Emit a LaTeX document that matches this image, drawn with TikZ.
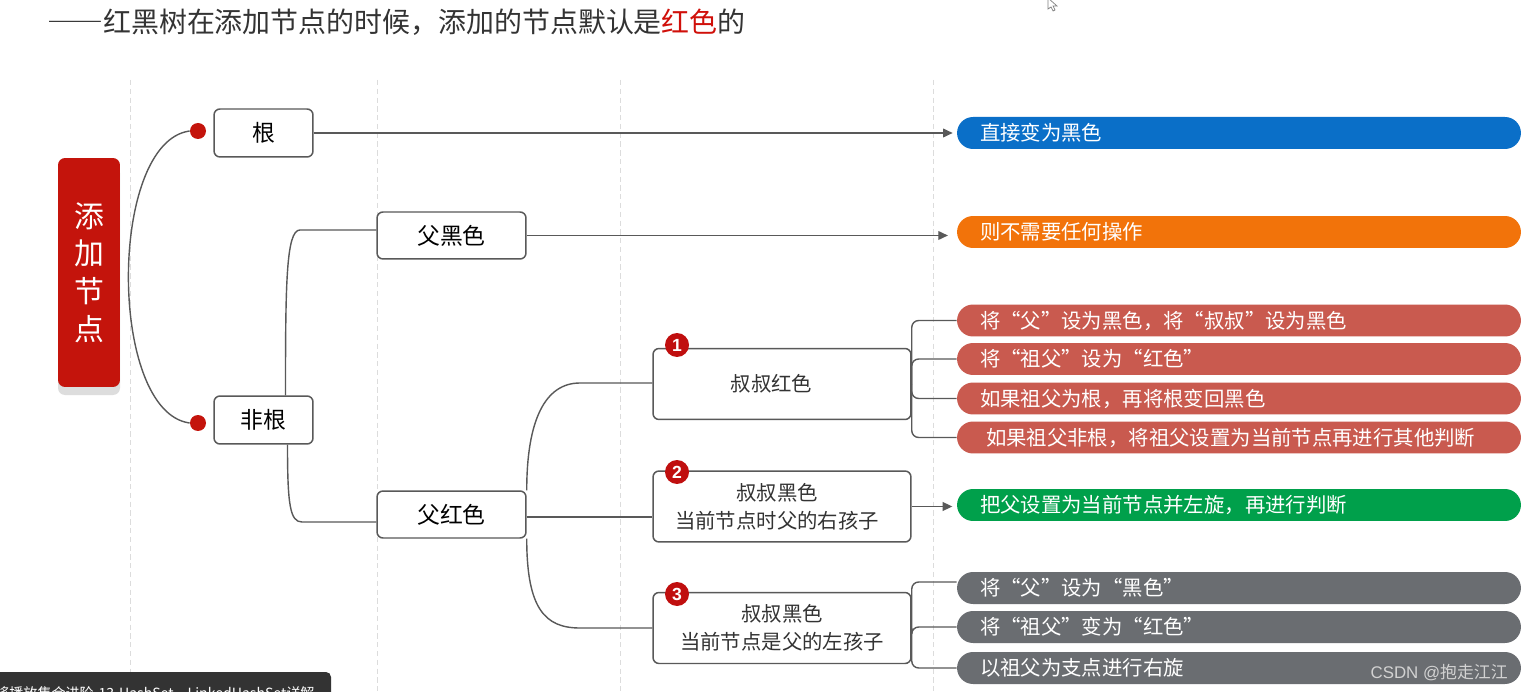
\documentclass[tikz,border=0pt]{standalone}
\usepackage{fontspec}
\setmainfont{Noto Sans CJK SC}
\newfontfamily\latinfont{Liberation Sans}
\newfontfamily\fwfont[CharacterWidth=Full]{Noto Sans CJK SC}
\newcommand{\myLQ}{\makebox[1em][r]{“}}
\newcommand{\myRQ}{\makebox[1em][l]{”}}
\usetikzlibrary{arrows.meta,calc}
\definecolor{titlec}{HTML}{333333}
\definecolor{redt}{HTML}{D0100A}
\definecolor{rootc}{HTML}{C4140C}
\definecolor{shadowc}{HTML}{DDDDDD}
\definecolor{linec}{HTML}{595959}
\definecolor{guidec}{HTML}{DCDCDC}
\definecolor{bluec}{HTML}{0A6FC8}
\definecolor{orangec}{HTML}{F2730A}
\definecolor{redpc}{HTML}{C95A4F}
\definecolor{greenc}{HTML}{00A04B}
\definecolor{greyc}{HTML}{6A6D71}
\definecolor{badgec}{HTML}{C00F0F}
\definecolor{overlayc}{HTML}{333333}
\definecolor{wmc}{HTML}{D2D2D2}
\begin{document}
\begin{tikzpicture}[x=0.02cm,y=-0.02cm,
  conn/.style={draw=linec, line width=0.8pt},
  arr/.style={conn, -{Triangle[length=5.5pt,width=5pt]}},
  guide/.style={draw=guidec, line width=0.4pt, dashed, dash pattern=on 3pt off 2pt},
  lvlone/.style={draw=linec, line width=0.85pt, rounded corners=0.12cm, fill=white, text=black, inner sep=0pt, font=\fontsize{13pt}{15pt}\selectfont},
  lvltwo/.style={draw=linec, line width=0.85pt, rounded corners=0.12cm, fill=white, text=titlec, inner sep=0pt, minimum width=5.16cm, minimum height=1.42cm, align=center, font=\fontsize{11.6pt}{15.9pt}\selectfont},
  pill/.style={rounded corners=0.32cm, minimum width=11.28cm, minimum height=0.64cm, inner sep=0pt, text width=10.36cm, align=left, text=white, font=\fontsize{11.6pt}{13pt}\selectfont},
  badge/.style={circle, fill=badgec, minimum size=0.48cm, inner sep=0pt, text=white, font=\latinfont\bfseries\fontsize{10pt}{10pt}\selectfont},
  dot/.style={circle, fill=rootc, minimum size=0.32cm, inner sep=0pt},
  rootbox/.style={fill=rootc, rounded corners=0.14cm, minimum width=1.24cm, minimum height=4.58cm, inner sep=0pt, align=center, text=white, font=\fontsize{17pt}{21.5pt}\selectfont}
]
\path[use as bounding box] (0,0) rectangle (1524,692);
\fill[white] (0,0) rectangle (1524,692);

% guide lines
\foreach \gx in {130,377,620,933} \draw[guide] (\gx,80) -- (\gx,692);

% title
\node[anchor=west, inner sep=0pt, text=titlec, font=\fontsize{15.9pt}{18pt}\selectfont] (title) at (47,22) {{\fwfont ——}红黑树在添加节点的时候，添加的节点默认是\textcolor{redt}{红色}的};

% cursor
\draw[gray, fill=white, line width=0.4pt] (1048,-2) -- (1048,9) -- (1051,7) -- (1053,11) -- (1055,10) -- (1053,6) -- (1057,6) -- cycle;

% root
\fill[shadowc, rounded corners=0.14cm] (58,166) rectangle (120,395);
\node[rootbox] (root) at (89,272.5) {添\\加\\节\\点};

% level 1
\node[lvlone, minimum width=1.98cm, minimum height=0.96cm] (gen) at (263.5,133) {根};
\node[lvlone, minimum width=1.98cm, minimum height=0.96cm] (feigen) at (263.5,420) {非根};
\node[dot] (d1) at (198,131) {};
\node[dot] (d2) at (198,423) {};

% level 2
\node[lvlone, minimum width=2.98cm, minimum height=0.94cm] (fhei) at (451.5,235.5) {父黑色};
\node[lvlone, minimum width=2.98cm, minimum height=0.94cm] (fhong) at (451.5,514.5) {父红色};

% level 3
\node[lvltwo] (b1) at (782,384) {\hspace*{-0.42cm}叔叔红色};
\node[lvltwo] (b2) at (782,506.5) {\hspace*{-0.2cm}叔叔黑色\\\hspace*{-0.2cm}当前节点时父的右孩子};
\node[lvltwo] (b3) at (782,628) {叔叔黑色\\当前节点是父的左孩子};
\node[badge] (n1) at (677,345) {1};
\node[badge] (n2) at (677,472) {2};
\node[badge] (n3) at (677,594) {3};

% pills
\node[pill, fill=bluec] (p0) at (1239,133) {直接变为黑色};
\node[pill, fill=orangec] (p1) at (1239,232) {则不需要任何操作};
\node[pill, fill=redpc] (r1) at (1239,320.5) {将\myLQ 父\myRQ 设为黑色，将\myLQ 叔叔\myRQ 设为黑色};
\node[pill, fill=redpc] (r2) at (1239,359) {将\myLQ 祖父\myRQ 设为\myLQ 红色\myRQ};
\node[pill, fill=redpc] (r3) at (1239,398.5) {如果祖父为根，再将根变回黑色};
\node[pill, fill=redpc] (r4) at (1239,437.5) {\hspace*{0.12cm}如果祖父非根，将祖父设置为当前节点再进行其他判断};
\node[pill, fill=greenc] (gp) at (1239,505) {把父设置为当前节点并左旋，再进行判断};
\node[pill, fill=greyc] (g1) at (1239,588) {将\myLQ 父\myRQ 设为\myLQ 黑色\myRQ};
\node[pill, fill=greyc] (g2) at (1239,627) {将\myLQ 祖父\myRQ 变为\myLQ 红色\myRQ};
\node[pill, fill=greyc] (g3) at (1239,668) {以祖父为支点进行右旋};

% connectors
\draw[conn] (d1.west) .. controls (108,142) and (108,412) .. (d2.west);
\coordinate (c1) at (300,230);
\coordinate (c2) at (302,522);
\draw[conn] ([xshift=0.44cm]feigen.north) .. controls +(0,-110) and +(-14,0) .. (c1) -- (c1 -| fhei.west);
\draw[conn] ([xshift=0.48cm]feigen.south) .. controls +(0,60) and +(-12,0) .. (c2) -- (c2 -| fhong.west);
\draw[arr, shorten >=2.3pt] (gen.east) -- (p0.west);
\draw[arr, shorten >=5pt] (fhei.east) -- (fhei.east -| p1.west);

\coordinate (c3) at (580,383);
\coordinate (c4) at (580,628);
\draw[conn] (fhong.north east) .. controls +(0,-70) and +(-35,0) .. (c3) -- (c3 -| b1.west);
\draw[conn] (fhong.south east) .. controls +(0,70) and +(-35,0) .. (c4) -- (c4 -| b3.west);
\draw[conn] ([yshift=-0.05cm]fhong.east) -- ([yshift=-0.05cm]fhong.east -| b2.west);

\foreach \t in {r1,r2,r3,r4} \draw[conn, rounded corners=0.14cm] (b1.east) |- (\t.west);
\draw[arr, shorten >=2.5pt] (b2.east) -- (b2.east -| gp.west);
\draw[conn, rounded corners=0.14cm] (b3.east) |- ([yshift=0.12cm]g1.west);
\draw[conn, rounded corners=0.14cm] (b3.east) |- (g2.west);
\draw[conn, rounded corners=0.14cm] (b3.east) |- (g3.west);

% watermark
\node[anchor=east, inner sep=0pt, text=wmc, font=\fontsize{9.6pt}{11pt}\selectfont] (wm) at (1508,673) {{\latinfont CSDN @}抱走江江};

% bottom overlay
\begin{scope}
\clip (0,672) rectangle (331,692);
\fill[overlayc] (0,700) -- (0,672) [rounded corners=0.1cm] -- (331,672) [sharp corners] -- (331,700) -- cycle;
\node[anchor=base west, inner sep=0pt, text=white, font=\fontsize{8pt}{10pt}\selectfont] (ov) at (-5,698) {将播放集合进阶-13-HashSet、LinkedHashSet详解};
\end{scope}
\end{tikzpicture}
\end{document}
